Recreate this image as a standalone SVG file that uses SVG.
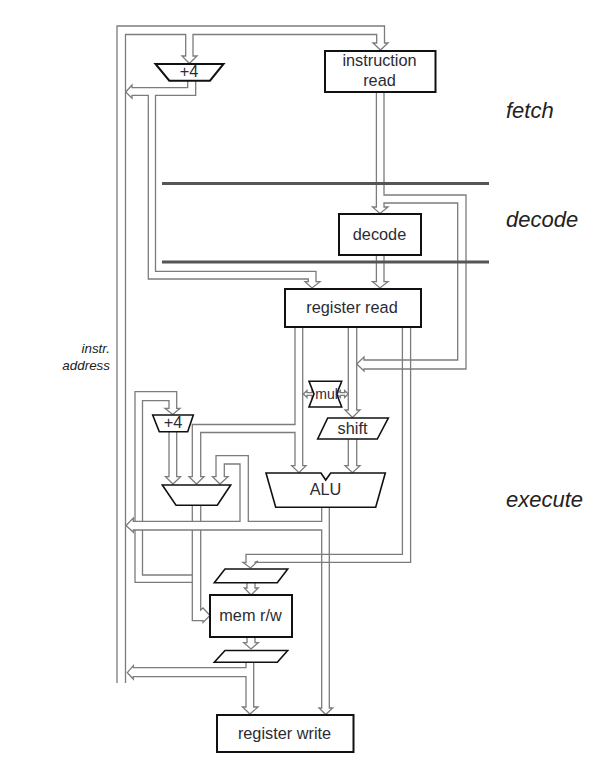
<svg xmlns="http://www.w3.org/2000/svg" width="616" height="760" viewBox="0 0 616 760">
<style>
text{font-family:"Liberation Sans",Arial,sans-serif;fill:#2b2b33;text-anchor:middle;font-size:16.3px}
.stage{font-size:22px;font-style:italic;text-anchor:start;fill:#222}
.note{font-size:13.4px;font-style:italic;text-anchor:end;fill:#222}
.wire{fill:none;stroke:#7c7c7c;stroke-width:1.3}
.box{fill:#fff;stroke:#111;stroke-width:2}
.thin{stroke-width:1.6}
.bar{stroke:#555;stroke-width:3.2;fill:none}
</style>
<rect width="616" height="760" fill="#fff"/>
<g id="connectors" class="wire">
<!-- program counter bus -->
<polyline points="117,683 117,26 384.5,26 384.5,43 388,43 380.5,50 373,43 376.7,43 376.7,34.5 193,34.5 193,56 197,56 189.4,63.5 182,56 185.7,56 185.7,34.5 125.5,34.5 125.5,683"/>
<!-- +4 output -->
<polyline points="187.7,81 187.7,87.7 132,87.7 132,85 125.7,92 132,98.3 132,95.3 148.3,95.3 148.3,279 308.3,279 308.3,281.7 305,281.7 312,288 320,281.7 316,281.7 316,271.3 155.5,271.3 155.5,95.3 195.7,95.3 195.7,81"/>
<!-- instruction to decode and branch -->
<polyline points="376.4,92 376.4,207 372.5,207 380,213.5 388,207 384,207 384,203 457.7,203 457.7,360 364,360 364,357 356.7,364 364,371 364,369 466,369 466,195 384,195 384,92"/>
<!-- decode to register read -->
<polyline points="376.4,255 376.4,281.7 372.5,281.7 380,288 388,281.7 384,281.7 384,255"/>
<!-- register read to ALU -->
<polyline points="295,327 295,424.5 192.3,424.5 192.3,476.7 189,476.7 196.5,484 204,476.7 200.7,476.7 200.7,432.5 295,432.5 295,465.7 291.7,465.7 299,472.7 306,465.7 302.7,465.7 302.7,327"/>
<!-- register read to shift -->
<polyline points="348.3,327 348.3,410 345,410 352.5,417.5 360,410 356.7,410 356.7,327"/>
<polyline points="348.3,439 348.3,465.7 345,465.7 352.5,472.7 360,465.7 356.7,465.7 356.7,439"/>
<!-- register read to latch -->
<polyline points="402.4,327 402.4,554.3 246,554.3 246,562.5 243,562.5 250.5,568 258,561 254.5,562.3 410.6,562.3 410.6,327"/>
<!-- ALU result loop -->
<polyline points="321.7,507 321.7,521.3 248.3,521.3 248.3,455.7 216,455.7 216,476.7 212.5,476.7 220,484 228,476.7 224.3,476.7 224.3,464 240,464 240,521.3 133.3,521.3 133.3,518 126,525.5 133.3,532.3 133.3,530 321.7,530 321.7,708 319,708 325.7,714.5 332.7,708 329.3,708 329.3,507"/>
<!-- branch adder -->
<polyline points="135,521 135,391.7 176.7,391.7 176.7,408.3 180,408.3 172.7,414.5 165,408.3 169,408.3 169,400.7 142.5,400.7 142.5,521"/>
<polyline points="135,530 135,582.3 192.3,582.3"/>
<polyline points="142.5,530 142.5,575 192.3,575"/>
<polyline points="169,432 169,476.7 165.5,476.7 173,484 180.5,476.7 176.7,476.7 176.7,432"/>
<!-- mux to memory -->
<polyline points="192.3,505 192.3,521"/>
<polyline points="200.7,505 200.7,521"/>
<polyline points="192.3,530 192.3,620.7 203,620.7 203,622.5 210,615.5 203,608 200.7,610 200.7,530"/>
<!-- memory stage -->
<polyline points="247,583 247,588 244.3,588 251,595 258.3,588 255,588 255,583"/>
<polyline points="247,637 247,642.7 243.7,642.7 251,649 258.3,642.7 255,642.7 255,637"/>
<polyline points="246,662.3 246,667.7 133.3,667.7 133.3,665.7 127.3,672.7 133.3,679 133.3,676.7 246,676.7 246,707 242.5,707 250,714 258,707 253.7,707 253.7,662.3"/>
<!-- mul ports -->
<polygon points="303.3,394 307,390.5 307,392.6 312,392.6 312,390.5 315.7,394 312,397.5 312,395.4 307,395.4 307,397.5" fill="#fff"/>
<polygon points="336.7,394 340.4,390.5 340.4,392.6 344.6,392.6 344.6,390.5 348.3,394 344.6,397.5 344.6,395.4 340.4,395.4 340.4,397.5" fill="#fff"/>
</g>
<g id="pipeline-bars" class="bar">
<line x1="162" y1="183.5" x2="489" y2="183.5"/>
<line x1="162" y1="262" x2="489" y2="262"/>
</g>
<g id="instruction-read"><rect class="box" x="325" y="51" width="110.5" height="41"/><text x="379.5" y="66">instruction</text><text x="379.5" y="86">read</text></g>
<g id="adder-pc"><polygon class="box" points="155.5,64 223.5,64 210,80.7 169.3,80.7"/><text x="189" y="77">+4</text></g>
<g id="decode"><rect class="box" x="339" y="214" width="82" height="41"/><text x="379.5" y="240">decode</text></g>
<g id="register-read"><rect class="box" x="285" y="289" width="136" height="38"/><text x="352" y="313">register read</text></g>
<g id="mul"><polygon class="box thin" points="309,381.3 341.7,381.3 336.7,394 341.7,407 309,407 314,394"/><text x="326.5" y="399" style="font-size:14px">mul</text></g>
<g id="shift"><polygon class="box thin" points="327.7,418 388.3,418 377.3,439 317.7,439"/><text x="352.5" y="434">shift</text></g>
<g id="adder-branch"><polygon class="box thin" points="152.7,415 193.3,415 187.7,431.7 159.3,431.7"/><text x="173" y="428">+4</text></g>
<g id="mux"><polygon class="box thin" points="162.3,485 230.7,485 217.3,505.3 176,505.3"/></g>
<g id="alu"><polygon class="box thin" points="266,473 321,473 325.7,480 330.7,473 385.3,473 375.7,507.3 275.7,507.3"/><text x="325.5" y="495">ALU</text></g>
<g id="latch-1"><polygon class="box thin" points="225,569 287.7,569 277.3,582.7 214.3,582.7"/></g>
<g id="mem"><rect class="box" x="210" y="595" width="82" height="42"/><text x="250.5" y="621">mem r/w</text></g>
<g id="latch-2"><polygon class="box thin" points="225,650.5 287.7,650.5 277.3,662.3 214.3,662.3"/></g>
<g id="register-write"><rect class="box" x="217" y="715" width="136.5" height="37"/><text x="284.5" y="739">register write</text></g>
<g id="labels">
<text class="note" x="110" y="353">instr.</text>
<text class="note" x="110" y="369.5">address</text>
<text class="stage" x="506" y="118">fetch</text>
<text class="stage" x="506" y="227">decode</text>
<text class="stage" x="506" y="507">execute</text>
</g>
</svg>
